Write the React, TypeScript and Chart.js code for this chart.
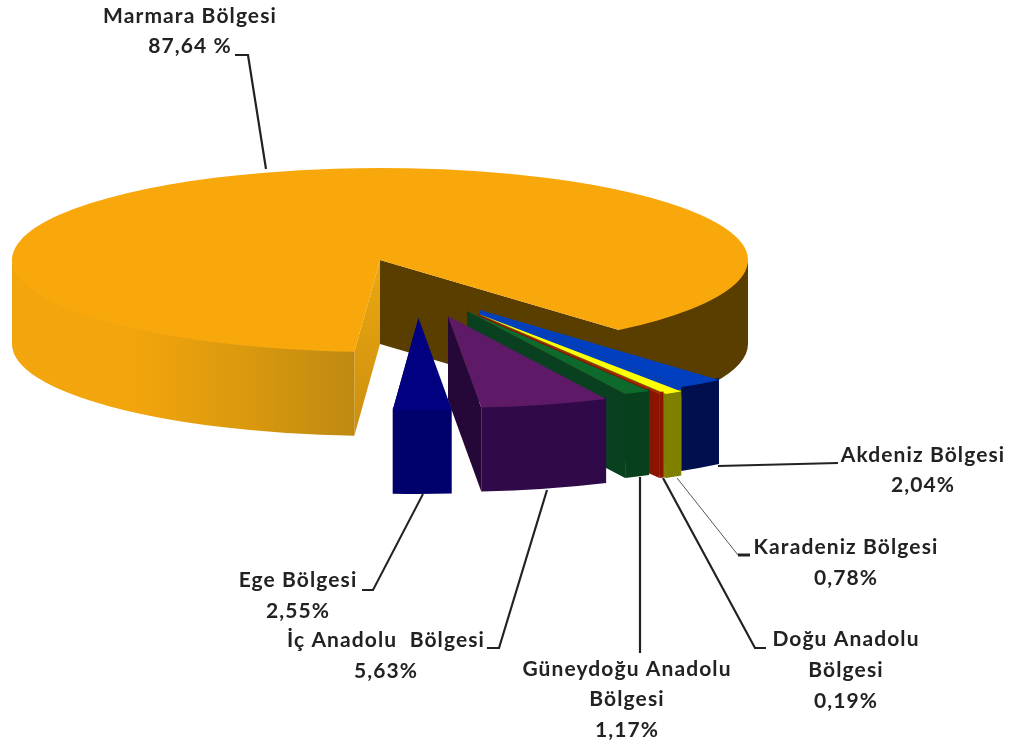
import React, { useEffect, useRef } from "react";
import { Chart, registerables } from "chart.js";

Chart.register(...registerables);

// ---- data ----
const regions = [
  "Marmara Bölgesi",
  "Akdeniz Bölgesi",
  "Karadeniz Bölgesi",
  "Doğu Anadolu Bölgesi",
  "Güneydoğu Anadolu Bölgesi",
  "İç Anadolu Bölgesi",
  "Ege Bölgesi",
];
const shares = [87.64, 2.04, 0.78, 0.19, 1.17, 5.63, 2.55];

// ---- styles ----
const topColors = ["#F9A80C", "#0040C0", "#FFFF00", "#A82400", "#0B6A2C", "#5E1A66", "#000080"];
const outerColors = ["#5A3E00", "#00104E", "#808000", "#8A1400", "#07401C", "#300A48", "#00006C"];
const cutColors = ["#5A3E00", "#0040C0", "#808000", "#8A1400", "#084020", "#260838", "#00006C"];

// exploded displacement of every slice, in pixels on the page
const explodeX = [0, 100, 100, 97.5, 87, 68, 38.5];
const explodeY = [0, 50, 54.5, 54, 51, 56, 58];

const CENTER_Y = 260;
const FLATTEN = 0.25;
const DEPTH = 84;
const INK = "#222222";

const labelBlocks = [
  { lines: ["Marmara Bölgesi", "87,64 %"], x: 190, ys: [23, 53] },
  { lines: ["Akdeniz Bölgesi", "2,04%"], x: 923, ys: [462, 492] },
  { lines: ["Karadeniz Bölgesi", "0,78%"], x: 846, ys: [554, 585] },
  { lines: ["Doğu Anadolu", "Bölgesi", "0,19%"], x: 846, ys: [646, 677, 708] },
  { lines: ["Güneydoğu Anadolu", "Bölgesi", "1,17%"], x: 627, ys: [676, 706, 737] },
  { lines: ["İç Anadolu  Bölgesi", "5,63%"], x: 386, ys: [647, 678] },
  { lines: ["Ege Bölgesi", "2,55%"], x: 298, ys: [587, 618] },
];

const leaders: { pts: number[][]; w: number; color?: string }[] = [
  { pts: [[235, 55], [248, 55], [266, 169]], w: 2.2 },
  { pts: [[718, 466], [838, 463]], w: 2 },
  { pts: [[677, 478], [738, 555]], w: 1, color: "#555555" },
  { pts: [[738, 555], [750, 555]], w: 3 },
  { pts: [[663, 478], [755, 648], [766, 648]], w: 2.2 },
  { pts: [[640, 477], [640, 653]], w: 2.2 },
  { pts: [[547, 490], [499, 648], [487, 648]], w: 2.2 },
  { pts: [[423, 494], [373, 590], [362, 590]], w: 2 },
];

function drawPie(chart: any) {
  const ctx: CanvasRenderingContext2D = chart.ctx;
  const arcs = chart.getDatasetMeta(0).data as any[];
  const quad = (a: number[], b: number[], fill: string) => {
    ctx.fillStyle = fill;
    ctx.beginPath();
    ctx.moveTo(a[0], a[1]);
    ctx.lineTo(b[0], b[1]);
    ctx.lineTo(b[0], b[1] + DEPTH);
    ctx.lineTo(a[0], a[1] + DEPTH);
    ctx.closePath();
    ctx.fill();
  };

  arcs.forEach((arc, i) => {
    const { x, y, startAngle, endAngle, outerRadius: R } = arc.getProps(
      ["x", "y", "startAngle", "endAngle", "outerRadius"],
      true
    );
    const cx = x + explodeX[i];
    const cy = CENTER_Y + explodeY[i];
    const apex = [cx, cy];
    const rim = (a: number) => [cx + R * Math.cos(a), cy + R * FLATTEN * Math.sin(a)];

    const wall = (a0: number, a1: number, fill: any) => {
      ctx.fillStyle = fill;
      ctx.beginPath();
      // starts a little above the rim so no pale seam shows beneath the top face
      ctx.ellipse(cx, cy - 2, R, R * FLATTEN, 0, a0, a1);
      ctx.ellipse(cx, cy + DEPTH, R, R * FLATTEN, 0, a1, a0, true);
      ctx.closePath();
      ctx.fill();
    };

    if (i === 0) {
      // the large slice: brown inner faces at the right, shaded orange at the left
      quad(apex, rim(endAngle), cutColors[0]);
      wall(2 * Math.PI, endAngle, outerColors[0]);
      const cut = ctx.createLinearGradient(0, cy, 0, cy + R * FLATTEN + DEPTH);
      cut.addColorStop(0, "#EBA80F");
      cut.addColorStop(1, "#CC8E10");
      quad(apex, rim(startAngle), cut as any);
      const side = ctx.createLinearGradient(cx - R, 0, rim(startAngle)[0], 0);
      side.addColorStop(0, "#F2A50C");
      side.addColorStop(0.35, "#F2A50C");
      side.addColorStop(0.7, "#D9980E");
      side.addColorStop(1, "#BE8A12");
      wall(startAngle, Math.PI, side);
    } else {
      quad(apex, rim(endAngle), cutColors[i]);
      wall(startAngle, endAngle, outerColors[i]);
    }

    // top face: the library's own arc, flattened into place
    ctx.save();
    ctx.translate(explodeX[i], cy);
    ctx.scale(1, FLATTEN);
    ctx.translate(0, -y);
    arc.draw(ctx, chart.chartArea);
    ctx.restore();
  });
}

const pie3d = {
  id: "pie3d",
  beforeDatasetsDraw(chart: any) {
    drawPie(chart);
    return false;
  },
  afterDraw(chart: any) {
    const ctx: any = chart.ctx;
    ctx.save();
    ctx.lineJoin = "miter";
    leaders.forEach((l) => {
      ctx.strokeStyle = l.color || INK;
      ctx.lineWidth = l.w;
      ctx.beginPath();
      l.pts.forEach((p, k) => (k ? ctx.lineTo(p[0], p[1]) : ctx.moveTo(p[0], p[1])));
      ctx.stroke();
    });
    ctx.fillStyle = INK;
    ctx.font = "700 21px Lato";
    ctx.letterSpacing = "1.1px";
    ctx.textAlign = "center";
    ctx.textBaseline = "alphabetic";
    labelBlocks.forEach((b) =>
      b.lines.forEach((t, k) => ctx.fillText(t, b.x, b.ys[k]))
    );
    ctx.restore();
  },
};

export default function App() {
  const ref = useRef<HTMLCanvasElement>(null);
  useEffect(() => {
    document.body.style.margin = "0";
    document.body.style.background = "#ffffff";
    const chart = new Chart(ref.current as HTMLCanvasElement, {
      type: "pie",
      data: {
        labels: regions,
        datasets: [
          {
            data: shares,
            backgroundColor: topColors,
            borderWidth: 0,
          },
        ],
      },
      options: {
        animation: false,
        responsive: false,
        rotation: 184,
        layout: { padding: { left: 12, right: 272, top: 4, bottom: 5 } },
        plugins: { legend: { display: false }, tooltip: { enabled: false } },
      },
      plugins: [pie3d],
    } as any);
    return () => chart.destroy();
  }, []);
  return (
    <canvas
      ref={ref}
      width={1020}
      height={745}
      style={{ display: "block", width: 1020, height: 745 }}
    />
  );
}
